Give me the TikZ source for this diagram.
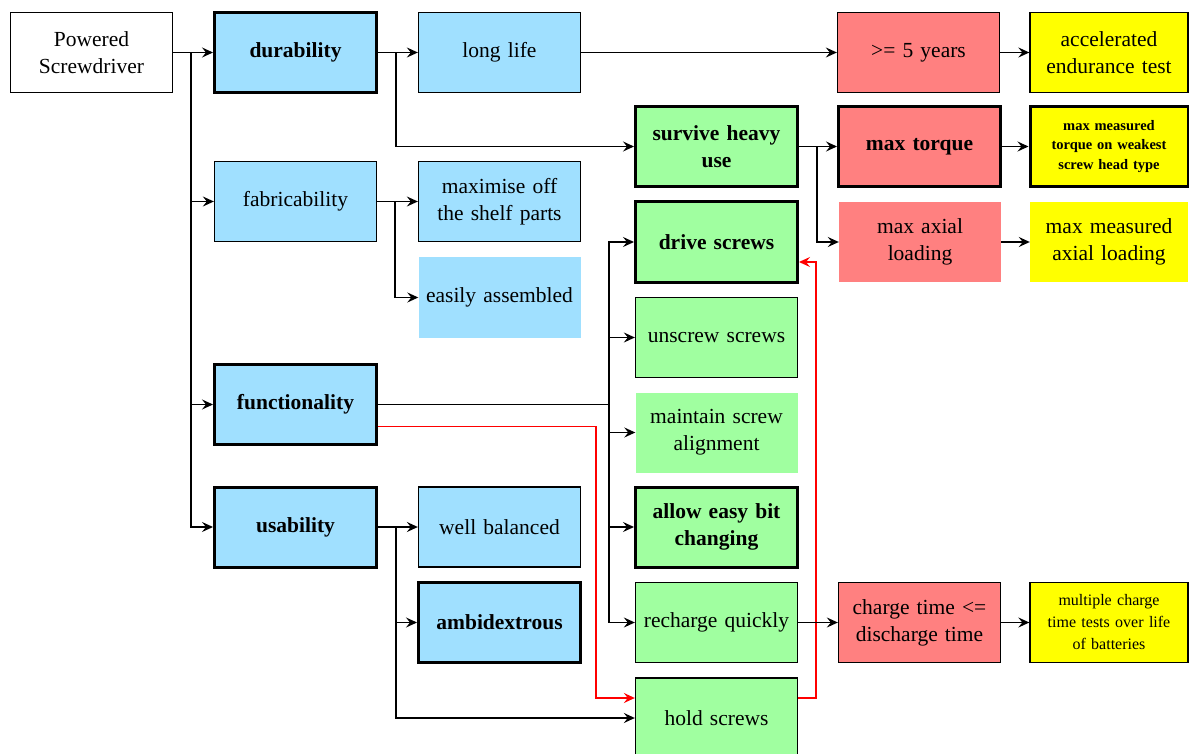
\documentclass[tikz,border=0pt]{standalone}
\usepackage{fontspec}
\setmainfont{Liberation Serif}
\usepackage{tikz}
\usepackage{xcolor}
\usetikzlibrary{arrows.meta, positioning, calc}
\definecolor{needblue}{HTML}{A0E0FF}
\definecolor{needgreen}{HTML}{A0FFA0}
\definecolor{needred}{HTML}{FF8080}
\definecolor{needyellow}{HTML}{FFFF00}
\tikzstyle{box} = [rectangle, minimum width=162pt, minimum height=80pt, inner sep=2pt, text width=158pt, align=center, font=\fontsize{21.5}{27}\selectfont]
\tikzstyle{thin} = [draw=black, line width=1.3pt]
\tikzstyle{thick} = [draw=black, line width=3pt, font=\fontsize{21.5}{27}\selectfont\bfseries]
\tikzstyle{root} = [box, thin, fill=white]
\tikzstyle{goal} = [box, fill=needblue]
\tikzstyle{func} = [box, fill=needgreen]
\tikzstyle{metric} = [box, fill=needred]
\tikzstyle{test} = [box, fill=needyellow, minimum width=158pt, text width=154pt]
\tikzstyle{arrow} = [line width=1.5pt,-{Stealth[length=11pt,width=10pt,inset=4pt]}]
\tikzstyle{redarrow} = [arrow, red]

\begin{document}
\begin{tikzpicture}[x=1pt, y=-1pt]
\useasboundingbox (0,0) rectangle (1189,754);

% Root
\node (ps) [root] at (91.5,52.5) {Powered\\Screwdriver};

% Goals
\node (dur) [goal, thick] at (295.5,52.5) {durability};
\node (fab) [goal, thin] at (295.5,201.5) {fabricability};
\node (fun) [goal, thick] at (295.5,404.5) {functionality};
\node (usab) [goal, thick] at (295.5,527) {usability};

% Sub goals
\node (life) [goal, thin] at (499.5,52.5) {long life};
\node (shelf) [goal, thin] at (499.5,201.5) {maximise off\\the shelf parts};
\node (assem) [goal] at (499.5,297.5) {easily assembled};
\node (bal) [goal, thin] at (499.5,527) {well balanced};
\node (ambi) [goal, thick] at (499.5,622.5) {ambidextrous};

% Functions
\node (surv) [func, thick] at (716.5,146.5) {survive heavy\\use};
\node (drive) [func, thick] at (716.5,242) {drive screws};
\node (unscr) [func, thin] at (716.5,337.5) {unscrew screws};
\node (align) [func] at (716.5,432.5) {maintain screw\\alignment};
\node (bit) [func, thick] at (716.5,527) {allow easy bit\\changing};
\node (rech) [func, thin] at (716.5,622.5) {recharge quickly};
\node (hold) [func, thin] at (716.5,718) {hold screws};

% Metrics
\node (five) [metric, thin] at (918.5,52.5) {>= 5 years};
\node (torque) [metric, thick] at (919.5,146.5) {max torque};
\node (axial) [metric] at (920,242) {max axial\\loading};
\node (charge) [metric, thin] at (919.5,622.5) {charge time <=\\discharge time};

% Tests
\node (endur) [test, thin] at (1109,52.5) {accelerated\\endurance test};
\node (mtorque) [test, thick, font=\fontsize{14.5}{19.5}\selectfont\bfseries] at (1109,146.5) {max measured\\torque on weakest\\screw head type};
\node (maxial) [test] at (1109,242) {max measured\\axial loading};
\node (multi) [test, thin, font=\fontsize{16}{22}\selectfont] at (1109,622.5) {multiple charge\\time tests over life\\of batteries};

% Arrows
\draw [arrow] (ps) -- (dur);
\draw [arrow] (ps.east) -- ++(18,0) |- (fab.west);
\draw [arrow] (ps.east) -- ++(18,0) |- (fun.west);
\draw [arrow] (ps.east) -- ++(18,0) |- (usab.west);
\draw [arrow] (dur) -- (life);
\draw [arrow] (dur.east) -- ++(18,0) |- (surv.west);
\draw [arrow] (life) -- (five);
\draw [arrow] (five) -- (endur);
\draw [arrow] (surv) -- (torque);
\draw [arrow] (surv.east) -- ++(18,0) |- (axial.west);
\draw [arrow] (torque) -- (mtorque);
\draw [arrow] (axial) -- (maxial);
\draw [arrow] (fab) -- (shelf);
\draw [arrow] (fab.east) -- ++(18,0) |- (assem.west);
\coordinate (fbus) at ($(fun.east)+(231,0)$);
\draw [arrow] (fun.east) -- (fbus) |- (drive.west);
\draw [arrow] (fbus) |- (unscr.west);
\draw [arrow] (fbus) |- (align.west);
\draw [arrow] (fbus) |- (bit.west);
\draw [arrow] (fbus) |- (rech.west);
\draw [redarrow] ([yshift=-22pt]fun.east) -- ++(218,0) |- ([yshift=20pt]hold.west);
\draw [redarrow] ([yshift=20pt]hold.east) -- ++(18,0) |- ([yshift=-20pt]drive.east);
\draw [arrow] (usab) -- (bal);
\draw [arrow] (usab.east) -- ++(18,0) |- (ambi.west);
\draw [arrow] (usab.east) -- ++(18,0) |- (hold.west);
\draw [arrow] (rech) -- (charge);
\draw [arrow] (charge) -- (multi);

\end{tikzpicture}
\end{document}
